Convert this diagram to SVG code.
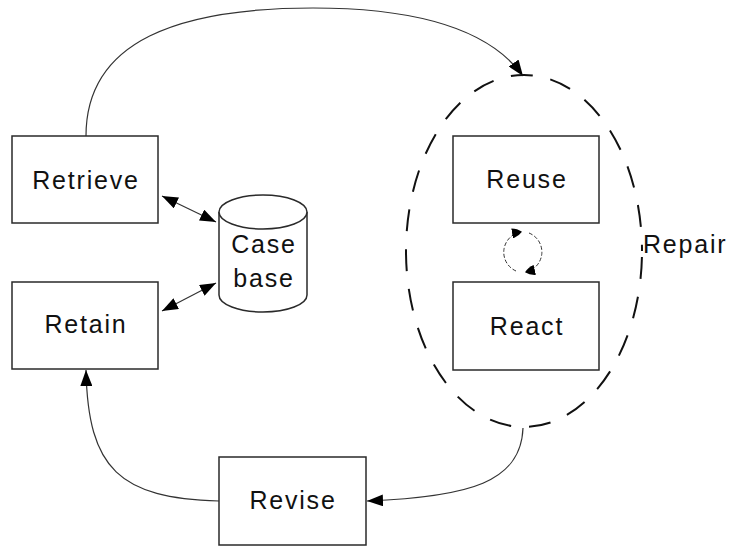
<svg xmlns="http://www.w3.org/2000/svg" width="730" height="547" viewBox="0 0 730 547">
  <style>
    .box { fill: #ffffff; stroke: #2a2a2a; stroke-width: 1.5; }
    .lbl { font-family: "Liberation Sans", Arial, sans-serif; font-size: 25px; fill: #111; letter-spacing: 1.8px; text-anchor: middle; }
    .conn { fill: none; stroke: #333; stroke-width: 1.2; }
    .cycle { fill: none; stroke: #333; stroke-width: 1; stroke-dasharray: 4 2; }
    .group { fill: none; stroke: #111; stroke-width: 2; stroke-dasharray: 22 18; stroke-dashoffset: 34; }
  </style>
  <defs>
    <marker id="arrow" viewBox="0 0 16 12" refX="16" refY="6" markerWidth="16" markerHeight="12" markerUnits="userSpaceOnUse" orient="auto-start-reverse">
      <path d="M0,0 L16,6 L0,12 z" fill="#000"/>
    </marker>
    <marker id="arrowSmall" viewBox="0 0 10 10" refX="9" refY="5" markerWidth="10" markerHeight="10" markerUnits="userSpaceOnUse" orient="auto">
      <path d="M0,0 Q6,1 10,5 Q6,9 0,10 z" fill="#000"/>
    </marker>
  </defs>

  <!-- connectors -->
  <g id="connectors">
    <path class="conn" d="M86,136 C86,40 180,8 313,8 C420,8 490,30 523,76" marker-end="url(#arrow)"/>
    <path class="conn" d="M523,428 C521,482 470,497 367,501" marker-end="url(#arrow)"/>
    <path class="conn" d="M219,501 C120,498 88,470 86,370" marker-end="url(#arrow)"/>
    <line class="conn" x1="162" y1="196" x2="216" y2="222" marker-start="url(#arrow)" marker-end="url(#arrow)"/>
    <line class="conn" x1="162" y1="311" x2="216" y2="283" marker-start="url(#arrow)" marker-end="url(#arrow)"/>
    <!-- Reuse/React cycle -->
    <path class="cycle" d="M516,271 A20.5,20.5 0 0 1 521,232" marker-end="url(#arrowSmall)"/>
    <path class="cycle" d="M529,233 A20.5,20.5 0 0 1 526,272" marker-end="url(#arrowSmall)"/>
  </g>

  <!-- Repair region -->
  <g id="repair">
    <ellipse class="group" cx="524" cy="251" rx="118" ry="176"/>
    <text class="lbl" x="643" y="253" style="text-anchor:start">Repair</text>
  </g>

  <g id="retrieve">
    <rect class="box" x="12" y="136" width="146" height="87"/>
    <text class="lbl" x="86" y="189">Retrieve</text>
  </g>

  <g id="retain">
    <rect class="box" x="12" y="282" width="146" height="87"/>
    <text class="lbl" x="86" y="333">Retain</text>
  </g>

  <g id="casebase">
    <path class="box" d="M219,212 L219,295 A44,17 0 0 0 307,295 L307,212"/>
    <ellipse class="box" cx="263" cy="212" rx="44" ry="17"/>
    <text class="lbl" x="264" y="253">Case</text>
    <text class="lbl" x="264" y="287">base</text>
  </g>

  <g id="reuse">
    <rect class="box" x="453" y="136" width="146" height="87"/>
    <text class="lbl" x="527" y="188">Reuse</text>
  </g>

  <g id="react">
    <rect class="box" x="453" y="282" width="146" height="88"/>
    <text class="lbl" x="527" y="335">React</text>
  </g>

  <g id="revise">
    <rect class="box" x="219" y="457" width="147" height="88"/>
    <text class="lbl" x="293" y="509">Revise</text>
  </g>
</svg>
